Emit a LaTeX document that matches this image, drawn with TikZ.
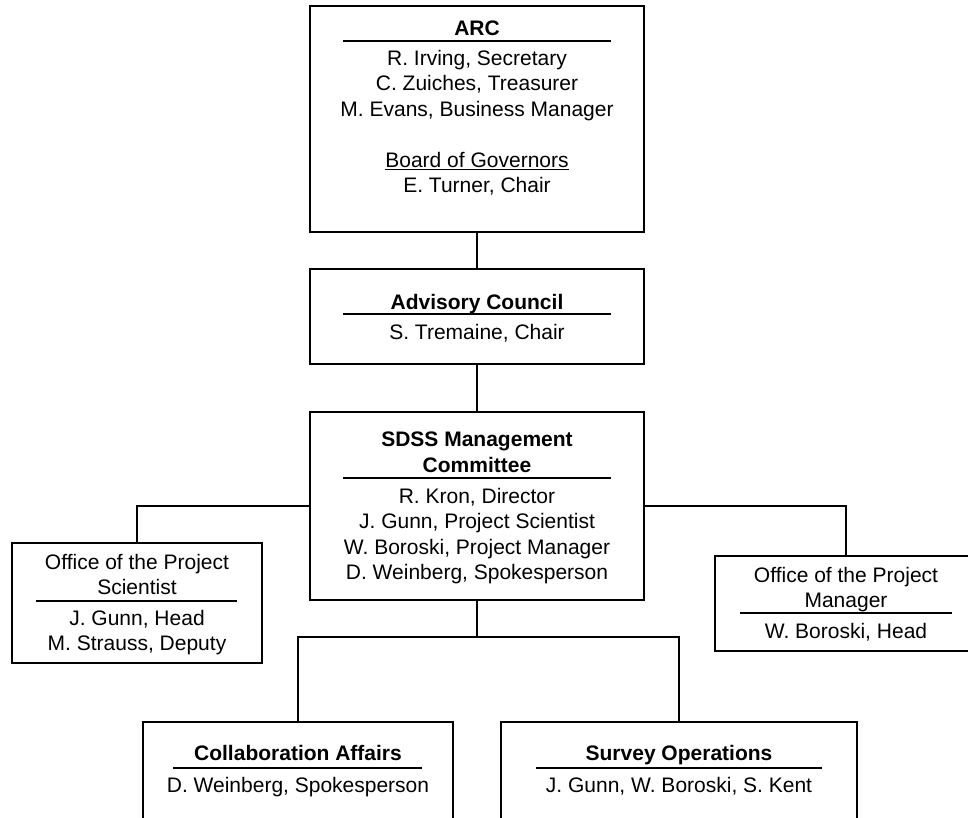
\documentclass[tikz,border=0pt]{standalone}
\usepackage{fontspec}
\setmainfont{Liberation Sans}
\usetikzlibrary{positioning}

% one name per line, stacked below a first baseline
\newcommand{\orglines}[4]{%
  \foreach \entry [count=\idx] in {#4}
    \node[member] (#1-\idx) at (#2, {#3+(\idx-1)*25.4}) {\entry};
}

\begin{document}
\begin{tikzpicture}[
  x=1pt, y=-1pt,
  unit/.style={draw, line width=1.8pt, inner sep=0pt},
  member/.style={inner sep=0pt, anchor=base, font=\fontsize{21pt}{25.4pt}\selectfont},
  head/.style={member, font=\fontsize{21pt}{25.4pt}\selectfont\bfseries},
  link/.style={line width=1.5pt},
  sep/.style={line width=1.2pt},
]
  \useasboundingbox (0,0) rectangle (968,817);
  \clip (0,0) rectangle (968,817);
  \fill[white] (0,0) rectangle (968,817);

  % boxes
  \node[unit, minimum width=334pt, minimum height=226pt] (arc) at (477,119) {};
  \node[unit, minimum width=334pt, minimum height=95pt] (adv) at (477,316.5) {};
  \node[unit, minimum width=334pt, minimum height=188pt] (sdss) at (477,506) {};
  \node[unit, minimum width=250pt, minimum height=120pt] (ops) at (137,603) {};
  \node[unit, minimum width=262pt, minimum height=95pt] (opm) at (846,603.5) {};
  \node[unit, minimum width=310pt, minimum height=128pt] (collab) at (298,786) {};
  \node[unit, minimum width=356pt, minimum height=128pt] (survey) at (679,786) {};

  % ARC
  \node[head] (arc-t) at (477,35.5) {ARC};
  \draw[sep] (343,41) -- (611,41);
  \orglines{arc}{477}{65.5}{{R. Irving, Secretary},{C. Zuiches, Treasurer},{M. Evans, Business Manager},{},{\underline{Board of Governors}},{E. Turner, Chair}}

  % Advisory Council
  \node[head] (adv-t) at (477,309.5) {Advisory Council};
  \draw[sep] (343,314) -- (611,314);
  \node[member] (adv-1) at (477,339.5) {S. Tremaine, Chair};

  % Management Committee
  \node[head] (sdss-t1) at (477,446.5) {SDSS Management};
  \node[head] (sdss-t2) at (477,472.5) {Committee};
  \draw[sep] (343,478) -- (611,478);
  \orglines{sdss}{477}{503.5}{{R. Kron, Director},{J. Gunn, Project Scientist},{W. Boroski, Project Manager},{D. Weinberg, Spokesperson}}

  % project offices
  \orglines{ops-t}{137}{569.5}{{Office of the Project},{Scientist}}
  \draw[sep] (36,601) -- (237,601);
  \orglines{ops}{137}{625.5}{{J. Gunn, Head},{M. Strauss, Deputy}}

  \orglines{opm-t}{846}{582.5}{{Office of the Project},{Manager}}
  \draw[sep] (740,613) -- (952,613);
  \node[member] (opm-1) at (846,638.5) {W. Boroski, Head};

  % working groups
  \node[head] (collab-t) at (298,760.5) {Collaboration Affairs};
  \draw[sep] (173,768) -- (422,768);
  \node[member] (collab-1) at (298,792.5) {D. Weinberg, Spokesperson};

  \node[head] (survey-t) at (679,760.5) {Survey Operations};
  \draw[sep] (536,768) -- (822,768);
  \node[member] (survey-1) at (679,792.5) {J. Gunn, W. Boroski, S. Kent};

  % connectors
  \draw[link] (arc) -- (adv);
  \draw[link] (adv) -- (sdss);
  \draw[link] (sdss.west) -| (ops.north);
  \draw[link] (sdss.east) -| (opm.north);
  \draw[link] (sdss.south) -- ++(0,36) coordinate (fork) -| (collab.north);
  \draw[link] (fork) -| (survey.north);
\end{tikzpicture}
\end{document}
